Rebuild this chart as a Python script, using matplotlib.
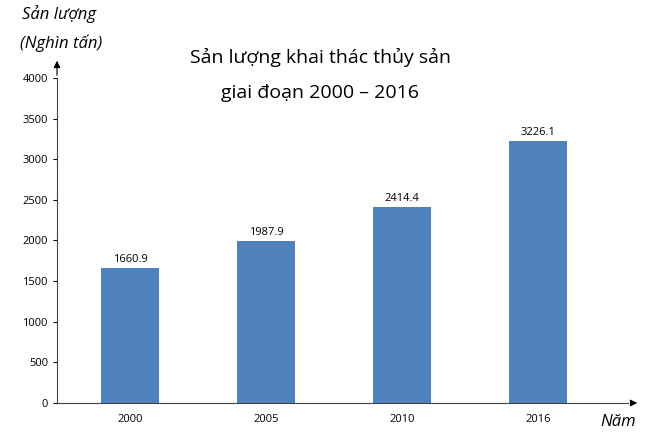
import matplotlib
matplotlib.use("Agg")
import matplotlib.pyplot as plt

years = ["2000", "2005", "2010", "2016"]
values = [1660.9, 1987.9, 2414.4, 3226.1]
yticks = [0, 500, 1000, 1500, 2000, 2500, 3000, 3500, 4000]

plt.rcParams['font.family'] = ['Open Sans', 'DejaVu Sans']
fig = plt.figure(figsize=(6.47, 4.38), dpi=100)
ax = fig.add_axes([57/647, 1-403/438, (628-57)/647, (403-78)/438])
x = list(range(len(years)))
bars = ax.bar(x, values, width=0.43, color="#4F81BD")
for xi, v in zip(x, values):
    ax.text(xi, v + 40, f"{v}", ha="center", va="bottom", fontsize=8)
ax.set_xlim(-0.537, 3.66)
ax.set_ylim(0, 4000)
ax.set_yticks(yticks)
ax.set_xticks(x)
ax.set_xticklabels(years)
ax.tick_params(axis="both", labelsize=8, length=3)
ax.tick_params(axis="x", length=0, pad=8)
for s in ["top", "right"]:
    ax.spines[s].set_visible(False)
ax.spines["left"].set_color("#444444")
ax.spines["bottom"].set_color("#444444")
# arrows
ax.annotate("", xy=(57/647, 1-58/438), xytext=(57/647, 1-78/438), xycoords="figure fraction",
            arrowprops=dict(arrowstyle="-|>", color="black", lw=0.8))
ax.annotate("", xy=(640/647, 1-403/438), xytext=(628/647, 1-403/438), xycoords="figure fraction",
            arrowprops=dict(arrowstyle="-|>", color="black", lw=0.8))
fig.text(22/647, 1-14/438, "Sản lượng", fontsize=12, style="italic", va="center")
fig.text(20/647, 1-43/438, "(Nghìn tấn)", fontsize=12, style="italic", va="center")
fig.text(600/647, 1-422/438, "Năm", fontsize=12, style="italic", va="center")
fig.text(320/647, 1-57/438, "Sản lượng khai thác thủy sản", fontsize=14, ha="center", va="center")
fig.text(320/647, 1-93/438, "giai đoạn 2000 – 2016", fontsize=14, ha="center", va="center")
fig.savefig("out.png", dpi=100)
